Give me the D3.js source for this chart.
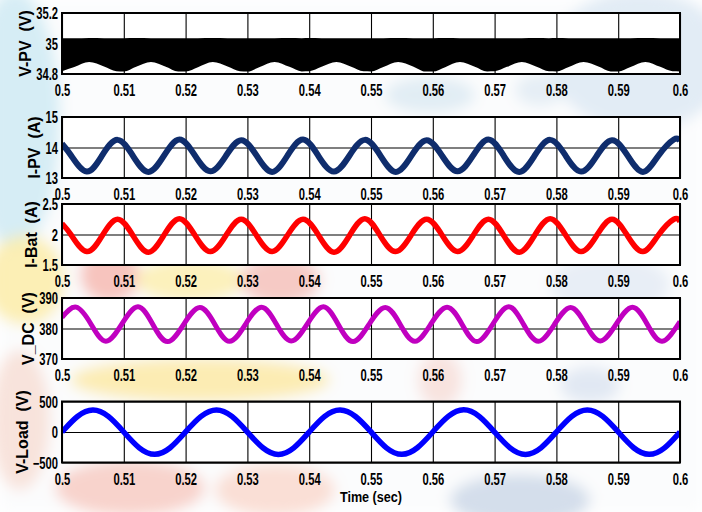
<!DOCTYPE html>
<html>
<head>
<meta charset="utf-8">
<script src="https://cdn.jsdelivr.net/npm/d3@7"></script>
<style>
body { margin: 0; background: #fff; }
svg { display: block; }
</style>
</head>
<body>
<div class="scope-chart"></div>
<script>
// time axis
const timeTicks = [0.5, 0.51, 0.52, 0.53, 0.54, 0.55, 0.56, 0.57, 0.58, 0.59, 0.6];
const timeTickLabels = ['0.5', '0.51', '0.52', '0.53', '0.54', '0.55', '0.56', '0.57', '0.58', '0.59', '0.6'];

// y ticks for each panel
const vpvTicks = [34.8, 35, 35.2];
const ipvTicks = [13, 14, 15];
const ibatTicks = [1.5, 2, 2.5];
const vdcTicks = [370, 380, 390];
const vloadTicks = [-500, 0, 500];

// V-PV: switching band, read as upper and lower envelope
const vpvTime = [
  0.5000, 0.5020, 0.5044, 0.5068, 0.5088,
  0.5100, 0.5120, 0.5144, 0.5168, 0.5188,
  0.5200, 0.5220, 0.5244, 0.5268, 0.5288,
  0.5300, 0.5320, 0.5344, 0.5368, 0.5388,
  0.5400, 0.5420, 0.5444, 0.5468, 0.5488,
  0.5500, 0.5520, 0.5544, 0.5568, 0.5588,
  0.5600, 0.5620, 0.5644, 0.5668, 0.5688,
  0.5700, 0.5720, 0.5744, 0.5768, 0.5788,
  0.5800, 0.5820, 0.5844, 0.5868, 0.5888,
  0.5900, 0.5920, 0.5944, 0.5968, 0.5988,
  0.6000];
const vpvLow = [
  34.818, 34.846, 34.878, 34.849, 34.818,
  34.816, 34.847, 34.879, 34.848, 34.817,
  34.817, 34.845, 34.878, 34.849, 34.818,
  34.816, 34.846, 34.879, 34.847, 34.817,
  34.818, 34.847, 34.878, 34.848, 34.818,
  34.817, 34.846, 34.879, 34.849, 34.816,
  34.816, 34.845, 34.878, 34.848, 34.817,
  34.818, 34.847, 34.879, 34.848, 34.818,
  34.817, 34.846, 34.878, 34.849, 34.817,
  34.816, 34.846, 34.879, 34.847, 34.818,
  34.817];
const vpvHigh = [
  35.035, 35.034, 35.036, 35.035, 35.034,
  35.035, 35.036, 35.035, 35.034, 35.035,
  35.034, 35.035, 35.036, 35.035, 35.035,
  35.035, 35.034, 35.035, 35.036, 35.035,
  35.036, 35.035, 35.034, 35.035, 35.035,
  35.034, 35.035, 35.036, 35.035, 35.034,
  35.035, 35.036, 35.035, 35.034, 35.035,
  35.035, 35.034, 35.035, 35.036, 35.035,
  35.036, 35.035, 35.034, 35.035, 35.035,
  35.034, 35.035, 35.036, 35.035, 35.034,
  35.035];

// I-PV and I-Bat share the same sample times (100 Hz ripple)
const rippleTime = [
  0.5000,
  0.5015, 0.5040, 0.5065, 0.5090,
  0.5115, 0.5140, 0.5165, 0.5190,
  0.5215, 0.5240, 0.5265, 0.5290,
  0.5315, 0.5340, 0.5365, 0.5390,
  0.5415, 0.5440, 0.5465, 0.5490,
  0.5515, 0.5540, 0.5565, 0.5590,
  0.5615, 0.5640, 0.5665, 0.5690,
  0.5715, 0.5740, 0.5765, 0.5790,
  0.5815, 0.5840, 0.5865, 0.5890,
  0.5915, 0.5940, 0.5965, 0.5990,
  0.6000];
const ipvValue = [
  14.12,
  13.73, 13.21, 13.74, 14.25,
  13.72, 13.20, 13.73, 14.26,
  13.74, 13.22, 13.72, 14.24,
  13.73, 13.20, 13.74, 14.26,
  13.72, 13.21, 13.73, 14.25,
  13.74, 13.20, 13.72, 14.24,
  13.73, 13.22, 13.73, 14.26,
  13.72, 13.20, 13.74, 14.25,
  13.73, 13.21, 13.72, 14.24,
  13.74, 13.20, 13.73, 14.26,
  14.22];
const ibatValue = [
  2.18,
  1.99, 1.72, 1.98, 2.25,
  1.98, 1.71, 1.99, 2.26,
  1.99, 1.72, 1.98, 2.25,
  1.98, 1.72, 1.99, 2.25,
  1.99, 1.71, 1.98, 2.26,
  1.98, 1.72, 1.99, 2.25,
  1.99, 1.72, 1.98, 2.25,
  1.98, 1.71, 1.99, 2.26,
  1.99, 1.72, 1.98, 2.25,
  1.98, 1.72, 1.99, 2.25,
  2.21];

// V_DC link voltage
const vdcTime = [
  0.5000,
  0.5023, 0.5047, 0.5071, 0.5097,
  0.5123, 0.5147, 0.5171, 0.5197,
  0.5223, 0.5247, 0.5271, 0.5297,
  0.5323, 0.5347, 0.5371, 0.5397,
  0.5423, 0.5447, 0.5471, 0.5497,
  0.5523, 0.5547, 0.5571, 0.5597,
  0.5623, 0.5647, 0.5671, 0.5697,
  0.5723, 0.5747, 0.5771, 0.5797,
  0.5823, 0.5847, 0.5871, 0.5897,
  0.5923, 0.5947, 0.5971,
  0.6000];
const vdcValue = [
  383.6,
  387.0, 381.4, 375.8, 381.5,
  387.1, 381.3, 375.7, 381.4,
  386.9, 381.5, 375.8, 381.4,
  387.0, 381.4, 375.9, 381.5,
  387.1, 381.3, 375.7, 381.4,
  386.9, 381.4, 375.8, 381.5,
  387.0, 381.5, 375.7, 381.4,
  387.1, 381.3, 375.8, 381.4,
  386.9, 381.4, 375.9, 381.5,
  387.0, 381.4, 375.8,
  382.3];

// V-Load, 50 Hz
const vloadTime = [
  0.5000, 0.5025, 0.5050, 0.5075, 0.5100, 0.5125, 0.5150, 0.5175,
  0.5200, 0.5225, 0.5250, 0.5275, 0.5300, 0.5325, 0.5350, 0.5375,
  0.5400, 0.5425, 0.5450, 0.5475, 0.5500, 0.5525, 0.5550, 0.5575,
  0.5600, 0.5625, 0.5650, 0.5675, 0.5700, 0.5725, 0.5750, 0.5775,
  0.5800, 0.5825, 0.5850, 0.5875, 0.5900, 0.5925, 0.5950, 0.5975,
  0.6000];
const vloadValue = [
  0, 254, 360, 256, 0, -259, -366, -258,
  2, 256, 362, 255, -1, -258, -368, -260,
  0, 257, 361, 254, 1, -259, -365, -258,
  0, 255, 363, 256, -1, -260, -367, -259,
  0, 256, 360, 255, 1, -258, -366, -259,
  0];

const W = 702, H = 512;
const plotLeft = 62, plotRight = 680, plotH = 61;

const panels = [
  { label: 'V-PV  (V)', top: 13, domain: [34.8, 35.2], ticks: vpvTicks, kind: 'band' },
  { label: 'I-PV  (A)', top: 117, domain: [13, 15], ticks: ipvTicks, t: rippleTime, v: ipvValue, color: '#0f2d6d', sw: 6 },
  { label: 'I-Bat  (A)', top: 204, domain: [1.5, 2.5], ticks: ibatTicks, t: rippleTime, v: ibatValue, color: '#ff0000', sw: 5.5 },
  { label: 'V_DC  (V)', top: 298, domain: [370, 390], ticks: vdcTicks, t: vdcTime, v: vdcValue, color: '#c000c0', sw: 5 },
  { label: 'V-Load  (V)', top: 401.5, domain: [-500, 500], ticks: vloadTicks, t: vloadTime, v: vloadValue, color: '#0000ff', sw: 5.5 }
];

const svg = d3.select('.scope-chart')
  .append('svg')
  .attr('width', W)
  .attr('height', H);

const defs = svg.append('defs');
defs.append('filter').attr('id', 'soft')
  .attr('x', '-50%').attr('y', '-50%').attr('width', '200%').attr('height', '200%')
  .append('feGaussianBlur').attr('stdDeviation', 7);

// faded watermark behind the figure
const bg = svg.append('g').attr('filter', 'url(#soft)');
bg.append('rect').attr('width', W).attr('height', H).attr('fill', '#fbfcfd');
const blobs = [
  [15, 120, 45, 130, '#cde9f3', 0.8],
  [25, 280, 40, 45, '#fbeca8', 0.85],
  [20, 420, 30, 70, '#f7d2c6', 0.6],
  [110, 275, 30, 28, '#f4a69c', 0.65],
  [190, 280, 55, 22, '#fcefb0', 0.85],
  [280, 280, 40, 25, '#f4a8a0', 0.6],
  [200, 380, 130, 22, '#fbe9a6', 0.85],
  [130, 488, 75, 28, '#f6bdb2', 0.65],
  [275, 490, 60, 26, '#f9cfc2', 0.65],
  [440, 380, 22, 28, '#f6c9c2', 0.5],
  [640, 60, 90, 70, '#dce7f2', 0.8],
  [520, 500, 70, 26, '#cdd8e8', 0.85],
  [430, 95, 45, 18, '#dbe8f1', 0.8],
  [540, 90, 25, 16, '#dbe8f1', 0.7],
  [610, 285, 60, 30, '#dfe8f2', 0.7],
  [590, 385, 30, 18, '#d6e0ee', 0.7]
];
bg.selectAll('ellipse').data(blobs).enter().append('ellipse')
  .attr('cx', d => d[0]).attr('cy', d => d[1])
  .attr('rx', d => d[2]).attr('ry', d => d[3])
  .attr('fill', d => d[4]).attr('opacity', d => d[5]);

const x = d3.scaleLinear().domain([0.5, 0.6]).range([plotLeft, plotRight]);

// narrow bold look of the tick labels
function squeeze(sel, k) {
  sel.each(function () {
    const w = this.getComputedTextLength();
    d3.select(this).attr('textLength', w * k).attr('lengthAdjust', 'spacingAndGlyphs');
  });
}

panels.forEach((p, i) => {
  const y = d3.scaleLinear().domain(p.domain).range([p.top + plotH, p.top]);
  const g = svg.append('g');

  g.append('rect')
    .attr('x', plotLeft).attr('y', p.top)
    .attr('width', plotRight - plotLeft).attr('height', plotH)
    .attr('fill', '#fff');

  // grid via axes
  const gx = g.append('g')
    .attr('transform', `translate(0,${p.top + plotH})`)
    .call(d3.axisBottom(x).tickValues(timeTicks).tickFormat((d, j) => timeTickLabels[j])
      .tickSize(-plotH).tickPadding(11));
  const gy = g.append('g')
    .attr('transform', `translate(${plotLeft},0)`)
    .call(d3.axisLeft(y).tickValues(p.ticks).tickFormat(d3.format('')).tickSize(-(plotRight - plotLeft)).tickPadding(4));

  [gx, gy].forEach(a => {
    a.select('.domain').remove();
    a.selectAll('line').attr('stroke', '#000').attr('stroke-width', 1.1);
    a.selectAll('text')
      .attr('fill', '#000')
      .attr('font-family', 'Arial, "Liberation Sans", sans-serif')
      .attr('font-weight', 'bold')
      .attr('font-size', 16);
  });
  gy.selectAll('text').attr('dy', '0.36em');
  squeeze(gx.selectAll('text'), 0.7);
  squeeze(gy.selectAll('text'), 0.7);

  const clipId = 'clip' + i;
  defs.append('clipPath').attr('id', clipId)
    .append('rect')
    .attr('x', plotLeft).attr('y', p.top)
    .attr('width', plotRight - plotLeft).attr('height', plotH);

  const plot = g.append('g').attr('clip-path', `url(#${clipId})`);

  if (p.kind === 'band') {
    const band = d3.area()
      .x((d, j) => x(vpvTime[j]))
      .y0((d, j) => y(vpvLow[j]))
      .y1((d, j) => y(vpvHigh[j]))
      .curve(d3.curveMonotoneX);
    plot.append('path')
      .datum(vpvTime)
      .attr('d', band)
      .attr('fill', '#000');
  } else {
    const line = d3.line()
      .x((d, j) => x(p.t[j]))
      .y((d, j) => y(p.v[j]))
      .curve(d3.curveNatural);
    plot.append('path')
      .datum(p.v)
      .attr('d', line)
      .attr('fill', 'none')
      .attr('stroke', p.color)
      .attr('stroke-width', p.sw)
      .attr('stroke-linejoin', 'round');
  }

  g.append('rect')
    .attr('x', plotLeft).attr('y', p.top)
    .attr('width', plotRight - plotLeft).attr('height', plotH)
    .attr('fill', 'none')
    .attr('stroke', '#000')
    .attr('stroke-width', 2);

  // y label left of the tick labels
  let minX = Infinity;
  gy.selectAll('text').each(function () {
    const b = this.getBBox();
    minX = Math.min(minX, plotLeft + b.x);
  });
  const lx = minX - 11;
  svg.append('text')
    .attr('transform', `translate(${lx},${p.top + plotH / 2}) rotate(-90)`)
    .attr('dy', '0.36em')
    .attr('text-anchor', 'middle')
    .attr('font-family', 'Arial, "Liberation Sans", sans-serif')
    .attr('font-weight', 'bold')
    .attr('font-size', 16)
    .attr('xml:space', 'preserve')
    .style('white-space', 'pre')
    .text(p.label);
});

const xl = svg.append('text')
  .attr('x', (plotLeft + plotRight) / 2)
  .attr('y', 502)
  .attr('text-anchor', 'middle')
  .attr('font-family', 'Arial, "Liberation Sans", sans-serif')
  .attr('font-weight', 'bold')
  .attr('font-size', 14)
  .text('Time (sec)');
squeeze(xl, 0.9);
</script>
</body>
</html>
